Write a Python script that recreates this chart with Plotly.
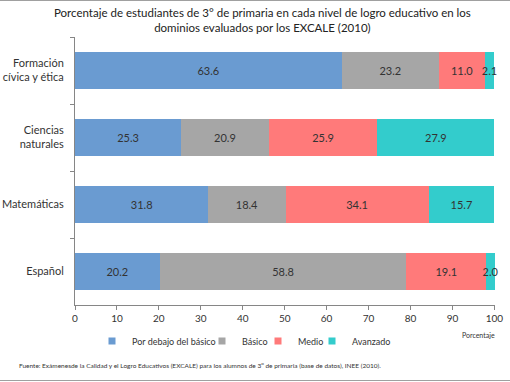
import plotly.graph_objects as go

categories = ["Formación<br>cívica y ética", "Ciencias<br>naturales", "Matemáticas", "Español"]
series_names = ["Por debajo del básico", "Básico", "Medio", "Avanzado"]
por_debajo = [63.6, 25.3, 31.8, 20.2]
basico = [23.2, 20.9, 18.4, 58.8]
medio = [11.0, 25.9, 34.1, 19.1]
avanzado = [2.1, 27.9, 15.7, 2.0]
x_ticks = [0, 10, 20, 30, 40, 50, 60, 70, 80, 90, 100]

colors = ["#6A9BD1", "#A6A6A6", "#FF7A7A", "#33CCCC"]
FONT = "Lato, 'Open Sans', sans-serif"

W, H = 510, 382
ML, MR, MT, MB = 75, 15, 37, 77
PW = W - ML - MR
PH = H - MT - MB

def px_x(px):
    return (px - ML) / PW

def px_y(py):
    return 1 - (py - MT) / PH

legend_ids = ["legend", "legend2", "legend3", "legend4"]
legend_px = [92, 202, 258, 312]

fig = go.Figure()
for name, vals, col in zip(series_names, [por_debajo, basico, medio, avanzado], colors):
    fig.add_trace(go.Bar(
        y=categories, x=vals, name=name, orientation="h",
        marker=dict(color=col, line=dict(width=0)),
        text=[f"{v:.1f}" for v in vals],
        textposition="inside", insidetextanchor="middle",
        constraintext="none", textangle=0, cliponaxis=False,
        textfont=dict(family=FONT, size=11, color="#333333"),
        hoverinfo="skip", showlegend=False,
    ))

# legend proxies with small square markers (one legend per entry for Excel-like spacing)
for name, col, lid in zip(series_names, colors, legend_ids):
    fig.add_trace(go.Scatter(
        x=[None], y=[None], mode="markers", name=name, legend=lid,
        marker=dict(symbol="square", size=7, color=col, line=dict(width=0)),
        showlegend=True, hoverinfo="skip",
    ))

legend_common = dict(
    orientation="h", y=px_y(341), xanchor="left", yanchor="middle",
    font=dict(family=FONT, size=9, color="#333333"),
    itemwidth=30, bgcolor="rgba(0,0,0,0)", borderwidth=0,
)
legends = {}
for lid, lx in zip(legend_ids, legend_px):
    legends[lid] = dict(legend_common, x=px_x(lx))

fig.update_layout(
    width=W, height=H,
    margin=dict(l=ML, r=MR, t=MT, b=MB, pad=0, autoexpand=False),
    barmode="stack", bargap=0.45,
    paper_bgcolor="white", plot_bgcolor="white",
    font=dict(family=FONT, color="#333333"),
    showlegend=True,
    **legends,
    xaxis=dict(
        range=[0, 100.15], tickvals=x_ticks, showgrid=False, zeroline=False,
        showline=True, linecolor="#868686", linewidth=1,
        ticks="outside", ticklen=4, tickcolor="#868686",
        tickfont=dict(family=FONT, size=10, color="#333333"),
        fixedrange=True, automargin=False,
    ),
    yaxis=dict(
        autorange="reversed", showgrid=False, zeroline=False,
        showline=True, linecolor="#868686", linewidth=1,
        ticks="outside", ticklen=4, tickcolor="#868686", tickson="boundaries",
        tickfont=dict(family=FONT, size=11, color="#333333"),
        ticklabelstandoff=8, automargin=False, fixedrange=True,
    ),
    annotations=[
        dict(text="Porcentaje de estudiantes de 3° de primaria en cada nivel de logro educativo en los<br>dominios evaluados por los EXCALE (2010)",
             xref="paper", yref="paper", x=px_x(262), y=px_y(20), xanchor="center", yanchor="middle",
             showarrow=False, font=dict(family=FONT, size=11.5, color="#222222")),
        dict(text="Porcentaje", xref="paper", yref="paper", x=px_x(497), y=px_y(335),
             xanchor="right", yanchor="middle", showarrow=False,
             font=dict(family=FONT, size=7, color="#333333")),
        dict(text="Fuente: Exámenesde la Calidad y el Logro Educativos (EXCALE) para los alumnos de 3<sup>o</sup> de primaria (base de datos), INEE (2010).",
             xref="paper", yref="paper", x=px_x(17), y=px_y(365),
             xanchor="left", yanchor="middle", showarrow=False,
             font=dict(family=FONT, size=6.5, color="#333333")),
    ],
    shapes=[
        dict(type="line", xref="paper", yref="paper", x0=px_x(0), x1=px_x(510), y0=px_y(0.5), y1=px_y(0.5),
             line=dict(color="#A0A0A0", width=1)),
        dict(type="line", xref="paper", yref="paper", x0=px_x(0), x1=px_x(510), y0=px_y(380.5), y1=px_y(380.5),
             line=dict(color="#A0A0A0", width=1)),
    ],
)

fig.write_html(
    "out.html",
    config={"displayModeBar": False},
    post_script="document.body.style.margin='0px'; document.body.style.overflow='hidden';",
)
